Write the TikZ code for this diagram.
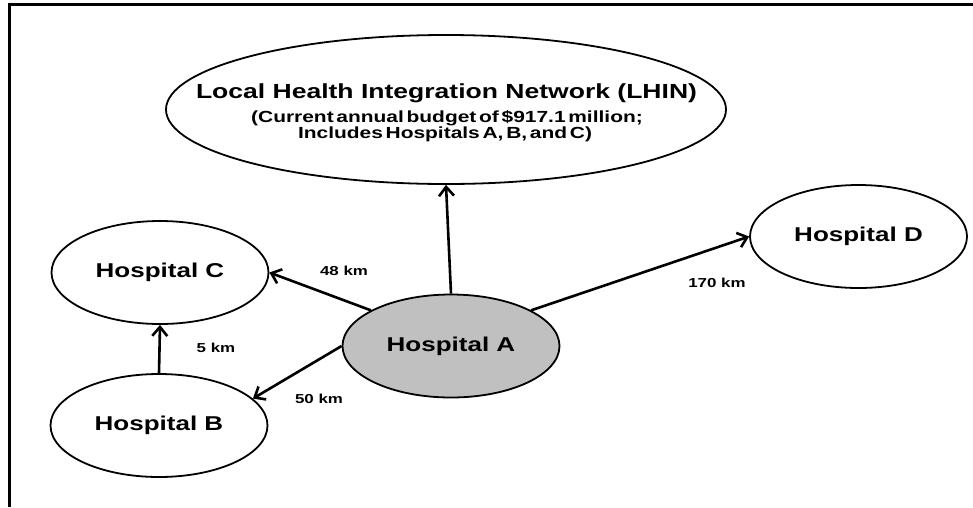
\documentclass[tikz,border=0pt]{standalone}
\usepackage{fontspec}
\usetikzlibrary{shapes.geometric,arrows.meta}
\newfontfamily\wideSans{Liberation Sans}[FakeStretch=1.3]
\newcommand\narrowSpaces{\spaceskip 0.17em\relax}
\definecolor{hubgray}{HTML}{C0C0C0}
\begin{document}
\begin{tikzpicture}[x=1pt,y=-1pt,
  place/.style={ellipse,draw,line width=1.8pt,inner sep=0pt,
    minimum width=217pt,minimum height=103pt,
    font=\wideSans\bfseries\fontsize{20}{24}\selectfont},
  link/.style={line width=2.6pt,-{Straight Barb[length=9pt,width=15pt,line width=2.6pt]}},
  dist/.style={font=\wideSans\bfseries\fontsize{13}{15}\selectfont,inner sep=0pt},
  headline/.style={anchor=base,inner sep=0pt,font=\wideSans\bfseries\fontsize{20.4}{24}\selectfont},
  subline/.style={anchor=base,inner sep=0pt,font=\wideSans\bfseries\fontsize{16.1}{19}\selectfont\narrowSpaces}]
\useasboundingbox (0,0) rectangle (973,507);

% frame along the top and left edges
\coordinate (frameTR) at (973,4);
\coordinate (frameTL) at (9.5,4);
\coordinate (frameBL) at (9.5,507);
\draw[line width=3pt] (frameTR) -- (frameTL) -- (frameBL);

% network ellipse and its caption
\node[ellipse,draw,line width=1.8pt,inner sep=0pt,minimum width=560pt,minimum height=149pt] (lhin) at (446,109.5) {};
\node[headline] (lhinTitle) at (446.5,98) {Local Health Integration Network (LHIN)};
\node[subline] (lhinBudget) at (447,122) {(Current annual budget of \$917.1 million;};
\node[subline] (lhinMembers) at (445,138) {Includes Hospitals A, B, and C)};

% hospitals
\node[place,fill=hubgray] (A) at (451,346) {Hospital A};
\node[place] (B) at (159,425.5) {Hospital B};
\node[place] (C) at (160,272.5) {Hospital C};
\node[place] (D) at (858.5,236.5) {Hospital D};

% connections
\draw[link] (A.north) -- (lhin.south);
\draw[link] (A.156) -- (C.east);
\draw[link] (A.west) -- (B.16);
\draw[link] (A.24.5) -- (D.west);
\draw[link] (B.north) -- (C.south);

% distances
\node[dist] (d48) at (344,271) {48 km};
\node[dist] (d50) at (319,399) {50 km};
\node[dist] (d5) at (216,348) {5 km};
\node[dist] (d170) at (717,283) {170 km};
\end{tikzpicture}
\end{document}
